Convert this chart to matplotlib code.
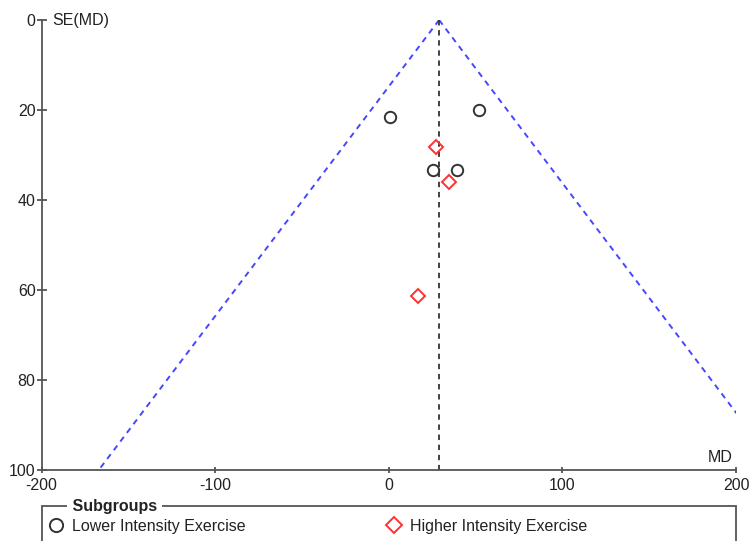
import matplotlib.pyplot as plt
from matplotlib.lines import Line2D
from matplotlib.patches import Rectangle

plt.rcParams['font.family'] = ['Liberation Sans', 'DejaVu Sans']

# study estimates
lower_md = [0.5, 52, 25.5, 39.5]
lower_se = [21.6, 20.0, 33.4, 33.3]
higher_md = [27, 34.5, 17]
higher_se = [28.3, 36.1, 61.4]

pooled_md = 29
z = 1.96
se_range = [0, 100]

x_ticks = [-200, -100, 0, 100, 200]
y_ticks = [0, 20, 40, 60, 80, 100]

axis_col = '#555555'
blue = '#4646ff'

fig = plt.figure(figsize=(7.52, 5.41), dpi=100)
ax = fig.add_axes([41.5 / 752, 1 - 470 / 541, 694.5 / 752, 450 / 541])

# funnel
left_x = [pooled_md - z * s for s in se_range]
right_x = [pooled_md + z * s for s in se_range]
ax.plot(left_x, se_range, color=blue, linestyle=(0, (3, 2.6)), linewidth=1.4)
ax.plot(right_x, se_range, color=blue, linestyle=(0, (3, 2.6)), linewidth=1.4)
ax.plot([pooled_md, pooled_md], se_range, color='#333333', linestyle=(0, (3, 2.6)),
        linewidth=1.3)

ax.plot(lower_md, lower_se, linestyle='none', marker='o', markersize=8.2,
        markerfacecolor='none', markeredgecolor='#333333', markeredgewidth=1.4)
ax.plot(higher_md, higher_se, linestyle='none', marker='D', markersize=7,
        markerfacecolor='none', markeredgecolor='#ff3030', markeredgewidth=1.4)

ax.set_xlim(-200, 200)
ax.set_ylim(100, 0)
ax.set_xticks(x_ticks)
ax.set_xticklabels([str(t) for t in x_ticks])
ax.set_yticks(y_ticks)
ax.set_yticklabels([str(t) for t in y_ticks])

for s in ['top', 'right']:
    ax.spines[s].set_visible(False)
for s in ['left', 'bottom']:
    ax.spines[s].set_color(axis_col)
    ax.spines[s].set_linewidth(1.3)
ax.tick_params(axis='x', direction='inout', length=5, width=1.3, color=axis_col,
               labelsize=11.5, pad=3.5, labelcolor='#222222')
ax.tick_params(axis='y', direction='inout', length=6.5, width=1.3, color=axis_col,
               labelsize=11.5, pad=1, labelcolor='#222222')

ax.text(0.016, 1.0, 'SE(MD)', transform=ax.transAxes, fontsize=11.5,
        ha='left', va='center', color='#222222')
ax.text(0.995, 0.012, 'MD', transform=ax.transAxes, fontsize=11.5,
        ha='right', va='bottom', color='#222222')

# legend frame with title on the top edge
fig.patches.append(Rectangle((41.5 / 752, -0.1), 694.5 / 752, 0.1 + 1 - 506 / 541,
                             transform=fig.transFigure, fill=False,
                             edgecolor=axis_col, linewidth=1.3))
fig.text(68 / 752, 1 - 506 / 541, ' Subgroups ', fontsize=11.5, fontweight='bold',
         ha='left', va='center', color='#222222',
         bbox=dict(facecolor='white', edgecolor='none', pad=0.5))

handles = [
    Line2D([], [], linestyle='none', marker='o', markersize=9.5,
           markerfacecolor='none', markeredgecolor='#333333', markeredgewidth=1.4),
    Line2D([], [], linestyle='none', marker='D', markersize=8,
           markerfacecolor='none', markeredgecolor='#ff3030', markeredgewidth=1.4),
]
fig.legend(handles, ['Lower Intensity Exercise', 'Higher Intensity Exercise'],
           loc='center left', bbox_to_anchor=(48 / 752, 1 - 526 / 541), ncol=2,
           frameon=False, fontsize=11.5, handlelength=1.0, handletextpad=0.5,
           columnspacing=8.8, borderaxespad=0, borderpad=0, labelcolor='#222222')

fig.savefig('out.png', dpi=100)
